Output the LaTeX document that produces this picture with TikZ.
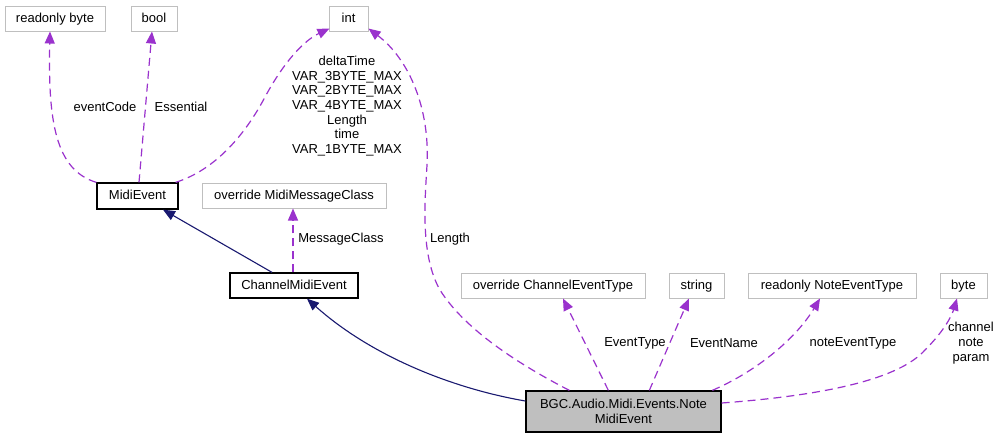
\documentclass[tikz,border=0pt]{standalone}
\usepackage{fontspec}
\setmainfont{Liberation Sans}
\usetikzlibrary{arrows.meta}
\definecolor{dep}{HTML}{9A32CD}
\definecolor{inh}{HTML}{191970}
\definecolor{gbox}{HTML}{BFBFBF}
\tikzset{
  every node/.style={font=\fontsize{13}{14.67}\selectfont, inner sep=0pt},
  extbox/.style={draw=gbox, line width=1pt, rectangle, text height=10.5pt, text depth=2.8pt},
  mainbox/.style={draw=black, line width=1.3pt, rectangle, text height=10.5pt, text depth=2.8pt},
  notebox/.style={draw=black, line width=1.3pt, rectangle, fill=gbox, align=center},
  depedge/.style={draw=dep, line width=1.2pt, dash pattern=on 8pt off 5pt, -{Triangle[length=12pt,width=10pt,fill=dep]}},
  inhedge/.style={draw=inh, line width=1.1pt, -{Triangle[length=12pt,width=10pt,fill=inh]}},
  lbl/.style={text=black, align=center}
}
\begin{document}
\begin{tikzpicture}[x=1pt,y=-1pt]
\useasboundingbox[fill=white] (0,0) rectangle (997,437);
% boxes
\node[extbox, minimum width=100pt, minimum height=25pt] (rbyte) at (55,18.5) {readonly byte};
\node[extbox, minimum width=46pt, minimum height=25pt] (bool) at (154,18.5) {bool};
\node[extbox, minimum width=39pt, minimum height=25pt] (int) at (348.5,18.5) {int};
\node[mainbox, minimum width=81pt, minimum height=26pt] (me) at (137.5,196) {MidiEvent};
\node[extbox, minimum width=184pt, minimum height=25pt] (omc) at (294,195.5) {override MidiMessageClass};
\node[mainbox, minimum width=128pt, minimum height=25pt] (ch) at (294,285.5) {ChannelMidiEvent};
\node[extbox, minimum width=184pt, minimum height=25pt] (oce) at (553,285.5) {override ChannelEventType};
\node[extbox, minimum width=55pt, minimum height=25pt] (str) at (696.5,285.5) {string};
\node[extbox, minimum width=168pt, minimum height=25pt] (rnet) at (832,285.5) {readonly NoteEventType};
\node[extbox, minimum width=47pt, minimum height=25pt] (byte) at (963.5,285.5) {byte};
\node[notebox, minimum width=195pt, minimum height=41pt] (note) at (623.5,411.5) {BGC.Audio.Midi.Events.Note\\MidiEvent};
% labels
\node[lbl] (l1) at (105,107) {eventCode};
\node[lbl] (l2) at (181,107) {Essential};
\node[lbl] (l3) at (347,106) {deltaTime\\VAR\_3BYTE\_MAX\\VAR\_2BYTE\_MAX\\VAR\_4BYTE\_MAX\\Length\\time\\VAR\_1BYTE\_MAX};
\node[lbl] (l4) at (341,239) {MessageClass};
\node[lbl] (l5) at (450,239) {Length};
\node[lbl] (l6) at (635,343) {EventType};
\node[lbl] (l7) at (724,343) {EventName};
\node[lbl] (l8) at (853,343) {noteEventType};
\node[lbl] (l9) at (971,343) {channel\\note\\param};
% inheritance edges
\draw[inhedge] ([xshift=-22pt]ch.north) -- ([xshift=25.5pt]me.south);
\draw[inhedge] ([yshift=10.5pt]note.west) .. controls (450,388) and (370,355) .. ([xshift=13pt]ch.south);
% dependency edges
\draw[depedge] (me.north west) .. controls (55,170) and (48,120) .. ([xshift=-5pt]rbyte.south);
\draw[depedge] ([xshift=1.5pt]me.north) -- ([xshift=-2pt]bool.south);
\draw[depedge] ([xshift=-3pt]me.north east) .. controls (215,170) and (245,135) .. (265,97) .. controls (285,60) and (305,40) .. ([yshift=3pt,xshift=1pt]int.south west);
\draw[depedge] ([xshift=44pt]note.north west) .. controls (520,365) and (465,330) .. (440,290) .. controls (420,255) and (425,200) .. (427,165) .. controls (430,110) and (410,60) .. ([yshift=3pt]int.south east);
\draw[depedge] ([xshift=-1pt]ch.north) -- ([xshift=-1pt]omc.south);
\draw[depedge] ([xshift=83pt]note.north west) -- ([xshift=10pt]oce.south);
\draw[depedge] ([xshift=124pt]note.north west) -- ([xshift=-7.5pt]str.south);
\draw[depedge] ([xshift=187pt]note.north west) .. controls (755,372) and (795,340) .. ([xshift=-12pt]rnet.south);
\draw[depedge] ([yshift=8.5pt]note.east) .. controls (830,395) and (900,378) .. (925,350) .. controls (945,330) and (952,315) .. ([xshift=-6.5pt]byte.south);
\end{tikzpicture}
\end{document}
